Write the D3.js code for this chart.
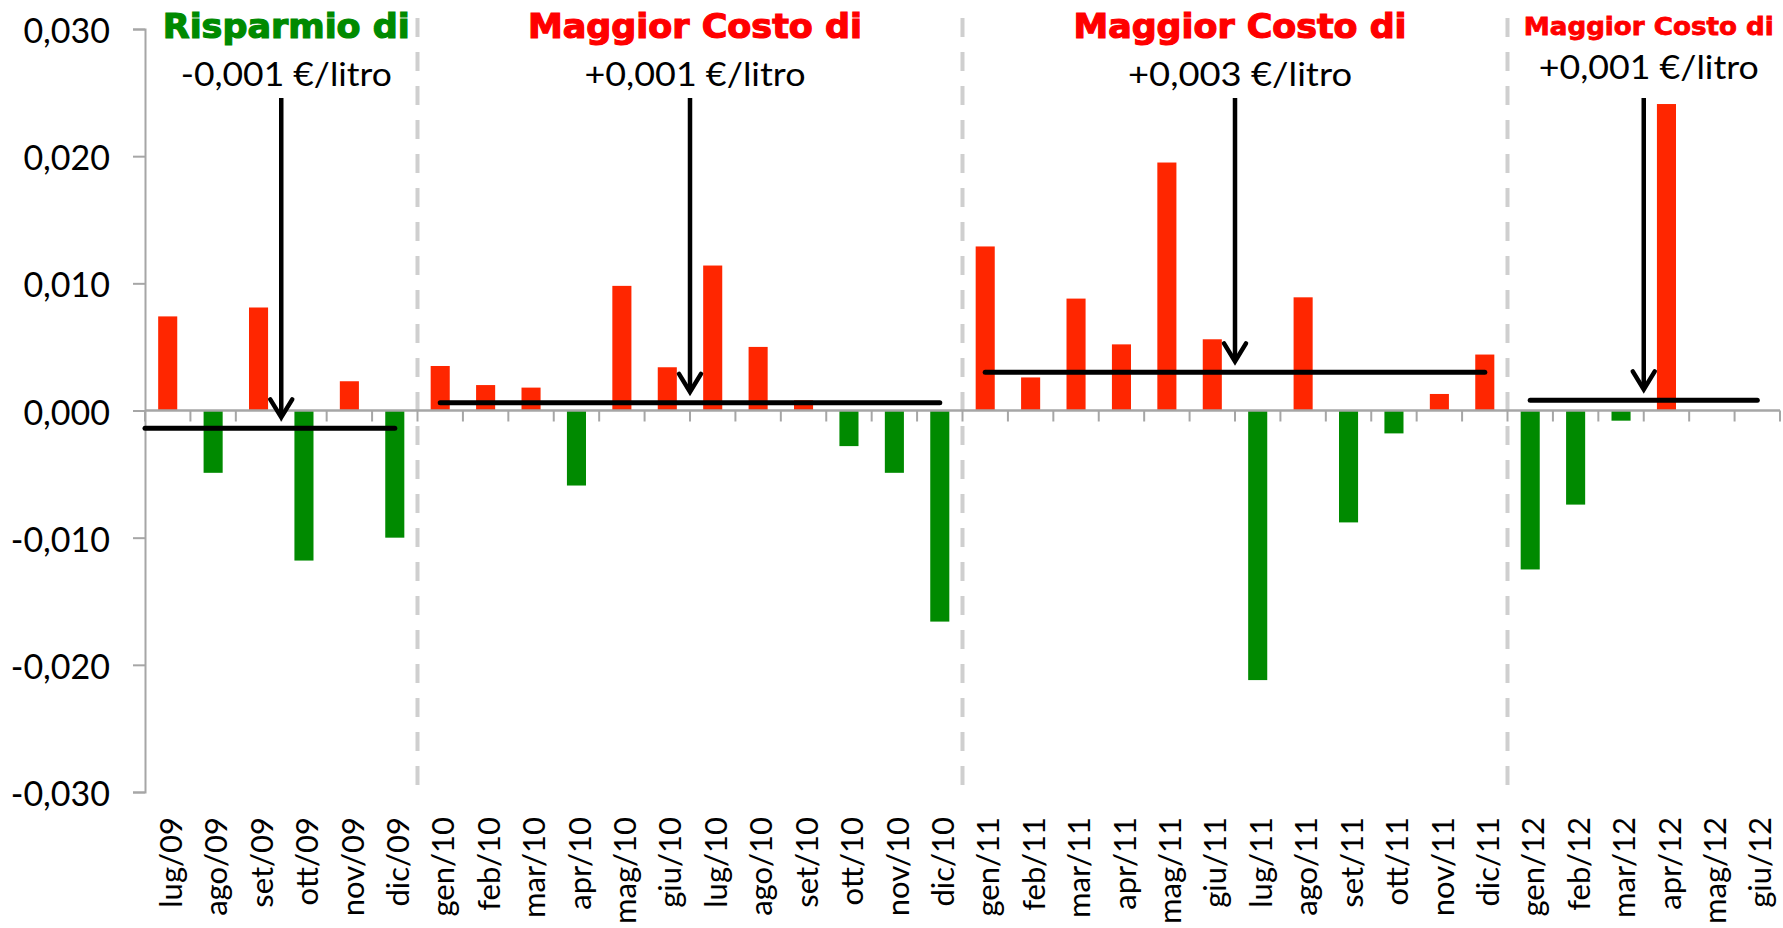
<!DOCTYPE html>
<html><head><meta charset="utf-8">
<script src="https://cdn.jsdelivr.net/npm/d3@7"></script>
<style>html,body{margin:0;padding:0;background:#fff;} svg{display:block}</style>
</head><body><svg id="c" width="1783" height="928"></svg>
<script>
// ---------- data ----------
const categories = ["lug/09","ago/09","set/09","ott/09","nov/09","dic/09",
  "gen/10","feb/10","mar/10","apr/10","mag/10","giu/10","lug/10","ago/10","set/10","ott/10","nov/10","dic/10",
  "gen/11","feb/11","mar/11","apr/11","mag/11","giu/11","lug/11","ago/11","set/11","ott/11","nov/11","dic/11",
  "gen/12","feb/12","mar/12","apr/12","mag/12","giu/12"];
const values = [0.0074,-0.0049,0.0081,-0.0118,0.0023,-0.0100,
  0.0035,0.0020,0.0018,-0.0059,0.0098,0.0034,0.0114,0.0050,0.0008,-0.0028,-0.0049,-0.0166,
  0.0129,0.0026,0.0088,0.0052,0.0195,0.0056,-0.0212,0.0089,-0.0088,-0.0018,0.0013,0.0044,
  -0.0125,-0.0074,-0.0008,0.0241,0,0];
const periodFirst = ["lug/09","gen/10","gen/11","gen/12"];
const periodLast = ["dic/09","dic/10","dic/11","giu/12"];
const periodAverage = [-0.0014,0.0006,0.0030,0.0008];
const periodTitle = ["Risparmio di","Maggior Costo di","Maggior Costo di","Maggior Costo di"];
const periodIsSaving = [true,false,false,false];
const periodAmount = ["-0,001 €/litro","+0,001 €/litro","+0,003 €/litro","+0,001 €/litro"];
const arrowAfter = ["set/09","giu/10","giu/11","mar/12"];
const yTicks = [-0.03,-0.02,-0.01,0,0.01,0.02,0.03];

(function () {
// ---------- layout / style ----------
const mLeft = 145, mRight = 1780, mTop = 29, mBottom = 792;
const RED = "#ff2600", GREEN = "#008a00", AXIS = "#a6a6a6";
const titleSize = [33,33,33,25], titleLen = [247,334,333,250], titleBase = [38,38,38,35];
const amountLen = [211,221,224,220], amountBase = [86,86,86,79];

const svg = d3.select("#c");
const x = d3.scaleBand().domain(categories).range([mLeft, mRight]).paddingInner(0.58).paddingOuter(0.29);
const y = d3.scaleLinear().domain([-0.03, 0.03]).range([mBottom, mTop]);
const step = x.step();
const boundary = i => x.range()[0] + i * step;
const center = c => x(c) + x.bandwidth() / 2;
const loc = d3.formatLocale({decimal: ",", thousands: ".", grouping: [3], currency: ["", "€"], minus: "-"});
const fmt = loc.format(".3f");

// dashed period separators
const sepIdx = periodFirst.slice(1).map(c => categories.indexOf(c));
svg.append("g").selectAll("line").data(sepIdx).join("line")
  .attr("x1", d => boundary(d)).attr("x2", d => boundary(d))
  .attr("y1", 18).attr("y2", 786)
  .attr("stroke", "#cfcfcf").attr("stroke-width", 4).attr("stroke-dasharray", "19,15");

// bars
svg.append("g").selectAll("rect").data(categories.map((c, i) => ({c, v: values[i]}))).join("rect")
  .attr("x", d => x(d.c)).attr("width", x.bandwidth())
  .attr("y", d => y(Math.max(0, d.v))).attr("height", d => Math.abs(y(d.v) - y(0)))
  .attr("fill", d => d.v >= 0 ? RED : GREEN);

// y axis
const ya = svg.append("g").attr("transform", `translate(${mLeft},0)`)
  .call(d3.axisLeft(y).tickValues(yTicks).tickSize(12).tickPadding(23).tickFormat(fmt));
ya.select(".domain").attr("stroke", AXIS).attr("stroke-width", 2);
ya.selectAll(".tick line").attr("stroke", AXIS).attr("stroke-width", 2);
ya.selectAll(".tick text").attr("font-family", "Lato").attr("font-size", 34).attr("fill", "#000").attr("dy", "0.40em");

// category axis at zero
svg.append("line").attr("x1", mLeft).attr("x2", mRight).attr("y1", y(0)).attr("y2", y(0))
  .attr("stroke", AXIS).attr("stroke-width", 2.5);
svg.append("g").selectAll("line").data(d3.range(categories.length + 1)).join("line")
  .attr("x1", d => boundary(d)).attr("x2", d => boundary(d))
  .attr("y1", y(0)).attr("y2", y(0) + 11)
  .attr("stroke", AXIS).attr("stroke-width", 2);

// category labels
const xa = svg.append("g").attr("transform", `translate(0,817)`)
  .call(d3.axisBottom(x).tickSize(0));
xa.select(".domain").remove();
xa.selectAll(".tick text")
  .attr("font-family", "Lato").attr("font-size", 31).attr("fill", "#000")
  .attr("text-anchor", "end").attr("y", 0).attr("x", 0).attr("dy", "0.36em")
  .attr("transform", "translate(3,0) rotate(-90)");

// period average lines
svg.append("g").selectAll("line").data(periodAverage).join("line")
  .attr("x1", (d, i) => i === 0 ? x.range()[0] : center(periodFirst[i]))
  .attr("x2", (d, i) => center(periodLast[i]))
  .attr("y1", d => y(d)).attr("y2", d => y(d))
  .attr("stroke", "#000").attr("stroke-width", 5).attr("stroke-linecap", "round");

// arrows and annotations
periodAverage.forEach((avg, i) => {
  const ax = boundary(categories.indexOf(arrowAfter[i]) + 1);
  const tip = y(avg) - 11;
  const g = svg.append("g");
  g.append("line").attr("x1", ax).attr("x2", ax).attr("y1", 98).attr("y2", tip - 2)
    .attr("stroke", "#000").attr("stroke-width", 4.5);
  g.append("path").attr("d", d3.line()([[ax - 11, tip - 18], [ax, tip], [ax + 11, tip - 18]]))
    .attr("fill", "none").attr("stroke", "#000").attr("stroke-width", 4.5)
    .attr("stroke-linejoin", "miter").attr("stroke-linecap", "round");
  const tx = ax + 5;
  const col = periodIsSaving[i] ? GREEN : "#ff0000";
  g.append("text").attr("x", tx).attr("y", titleBase[i]).attr("text-anchor", "middle")
    .attr("font-family", "DejaVu Sans").attr("font-weight", "bold").attr("font-size", titleSize[i])
    .attr("fill", col).attr("stroke", col).attr("stroke-width", i === 3 ? 0.8 : 1.2)
    .attr("textLength", titleLen[i]).attr("lengthAdjust", "spacingAndGlyphs")
    .text(periodTitle[i]);
  g.append("text").attr("x", tx).attr("y", amountBase[i]).attr("text-anchor", "middle")
    .attr("font-family", "Lato").attr("font-size", 33).attr("fill", "#000")
    .attr("textLength", amountLen[i]).attr("lengthAdjust", "spacingAndGlyphs")
    .text(periodAmount[i]);
});
})();
</script></body></html>
